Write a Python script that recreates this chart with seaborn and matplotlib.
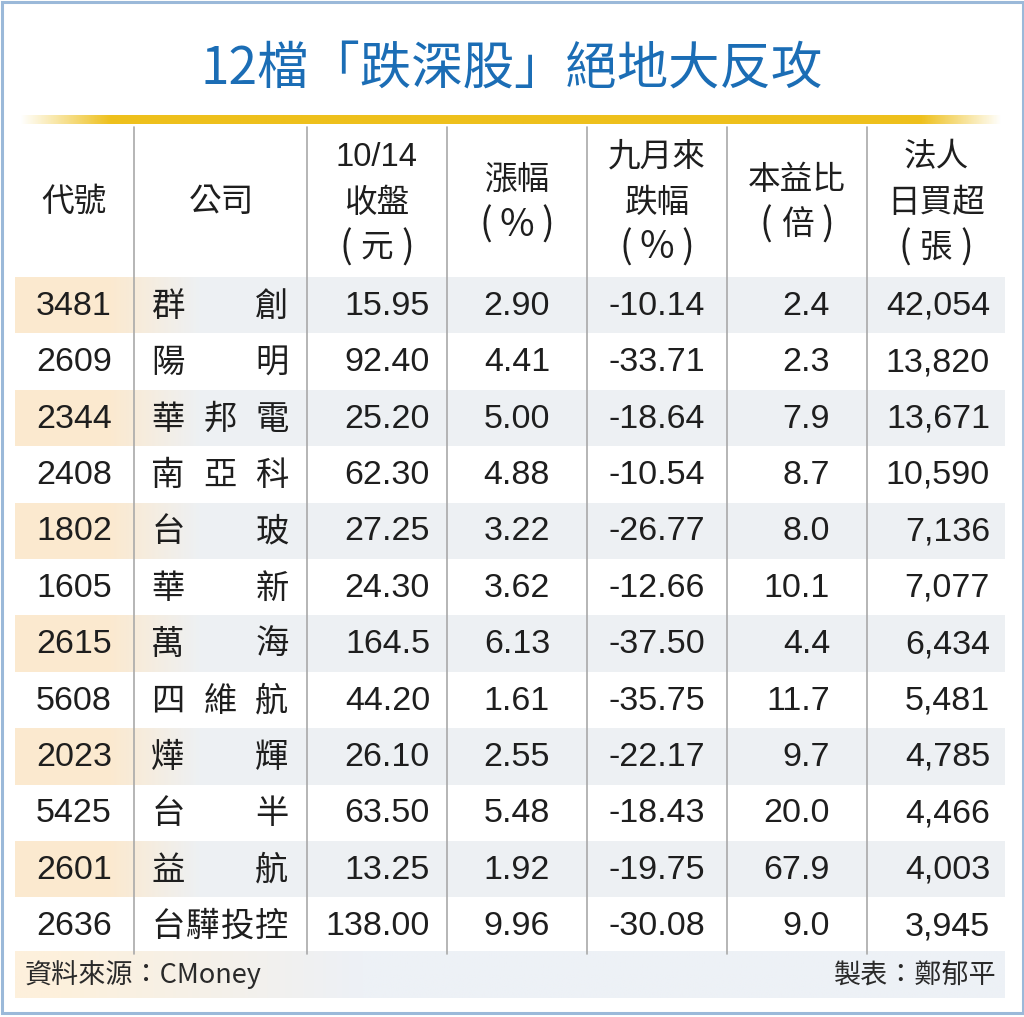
import matplotlib.pyplot as plt
import numpy as np
import pandas as pd
import seaborn as sns
from matplotlib.colors import LinearSegmentedColormap, to_rgb

codes = ['3481', '2609', '2344', '2408', '1802', '1605', '2615', '5608', '2023', '5425', '2601', '2636']
names = ['群創', '陽明', '華邦電', '南亞科', '台玻', '華新', '萬海', '四維航', '燁輝', '台半', '益航', '台驊投控']
close = ['15.95', '92.40', '25.20', '62.30', '27.25', '24.30', '164.5', '44.20', '26.10', '63.50', '13.25', '138.00']
change = [2.90, 4.41, 5.00, 4.88, 3.22, 3.62, 6.13, 1.61, 2.55, 5.48, 1.92, 9.96]
drop = [-10.14, -33.71, -18.64, -10.54, -26.77, -12.66, -37.50, -35.75, -22.17, -18.43, -19.75, -30.08]
pe = [2.4, 2.3, 7.9, 8.7, 8.0, 10.1, 4.4, 11.7, 9.7, 20.0, 67.9, 9.0]
netbuy = [42054, 13820, 13671, 10590, 7136, 7077, 6434, 5481, 4785, 4466, 4003, 3945]

headers = [['代號'], ['公司'], ['10/14', '收盤', '（元）'], ['漲幅', '（%）'],
           ['九月來', '跌幅', '（%）'], ['本益比', '（倍）'], ['法人', '日買超', '（張）']]
title = '12檔「跌深股」絕地大反攻'
source = '資料來源：CMoney'
credit = '製表：鄭郁平'

df = pd.DataFrame({'code': codes, 'name': names, 'close': close, 'change': change,
                   'drop': drop, 'pe': pe, 'netbuy': netbuy})

sns.set_theme(style='white')
cjk = ['Noto Sans CJK TC', 'DejaVu Sans']
num = ['Liberation Sans', 'DejaVu Sans']
plt.rcParams['font.family'] = cjk

W, H = 1024, 1017
fig = plt.figure(figsize=(W / 100, H / 100), dpi=100)

# table geometry in pixels
left, right = 15, 1005
top_body, row_h = 277, 56.4
n = len(df)
bottom_body = top_body + row_h * n
col_lines = [134, 307, 447, 587, 727, 867]
col_centers = [74, 221, 377, 517, 657, 797, 936]
cream, gray = '#fbe9cf', '#edf0f3'

# alternating row bands via heatmap (cream fades into gray to the right)
ax_bg = fig.add_axes([left / W, 1 - bottom_body / H, (right - left) / W, (bottom_body - top_body) / H])
xs = np.arange(left, right) + 0.5
blend = np.clip((200 - xs) / 90, 0, 1)
shade = np.full((n, len(xs)), np.nan)
shade[::2] = blend
band_cmap = LinearSegmentedColormap.from_list('band', [gray, cream])
sns.heatmap(shade, ax=ax_bg, cmap=band_cmap, vmin=0, vmax=1, cbar=False,
            xticklabels=False, yticklabels=False, linewidths=0, rasterized=True)
ax_bg.set_facecolor('white')

ax = fig.add_axes([0, 0, 1, 1])
ax.patch.set_alpha(0)

# footer band
fx = np.linspace(left, right, 400)
fb = np.clip((360 - fx) / 300, 0, 1)[None, :, None]
footer = fb * np.array(to_rgb('#fdf0dc')) + (1 - fb) * np.array(to_rgb('#edf1f6'))
ax.imshow(footer, extent=(left, right, 998, 951), aspect='auto', zorder=0)

# gold rule under the title
gx = np.linspace(20, 1002, 600)
alpha = np.clip(np.minimum((gx - 20) / 90, (1002 - gx) / 80), 0, 1)
gold = np.zeros((1, len(gx), 4))
gold[..., :3] = to_rgb('#eec01c')
gold[..., 3] = alpha
ax.imshow(gold, extent=(20, 1002, 124, 115.5), aspect='auto', zorder=1)

ax.set_xlim(0, W)
ax.set_ylim(H, 0)
ax.axis('off')

# frame
ax.add_patch(plt.Rectangle((1.5, 1.5), W - 3, 1011.5, fill=False, ec='#9bb9d9', lw=2.2, zorder=5))

for x in col_lines:
    ax.plot([x, x], [127, bottom_body], color='#a9a9a9', lw=1.2, zorder=2)

ax.text(512, 69, title, ha='center', va='center', fontsize=37, color='#1b6db5', fontweight='medium')

text_kw = dict(color='#1e1e1e', zorder=3)
for cx, lines in zip(col_centers, headers):
    if len(lines) == 3:
        ys = [157, 203, 248]
    elif len(lines) == 2:
        ys = [180, 225]
    else:
        ys = [202]
    for y, s in zip(ys, lines):
        if s.startswith('（'):
            # unit line: wide-set parentheses around the unit
            unit = s[1:-1]
            ax.text(cx - 31, y, '(', ha='center', va='center', fontsize=27, **text_kw)
            ax.text(cx, y, unit, ha='center', va='center', fontsize=27 if unit == '%' else 23.5, **text_kw)
            ax.text(cx + 31, y, ')', ha='center', va='center', fontsize=27, **text_kw)
        else:
            fam = num if s[0].isdigit() else cjk
            ax.text(cx, y, s, ha='center', va='center', fontsize=23.5, family=fam, **text_kw)

for i, r in df.iterrows():
    y = top_body + row_h * (i + 0.5) + 1
    ax.text(col_centers[0], y, r['code'], ha='center', va='center', fontsize=24.5, family=num, **text_kw)
    for cx, ch in zip(np.linspace(168, 272, len(r['name'])), r['name']):
        ax.text(cx, y, ch, ha='center', va='center', fontsize=24, **text_kw)
    ax.text(430, y, r['close'], ha='right', va='center', fontsize=24.5, family=num, **text_kw)
    ax.text(550, y, f"{r['change']:.2f}", ha='right', va='center', fontsize=24.5, family=num, **text_kw)
    ax.text(705, y, f"{r['drop']:.2f}", ha='right', va='center', fontsize=24.5, family=num, **text_kw)
    ax.text(830, y, f"{r['pe']:.1f}", ha='right', va='center', fontsize=24.5, family=num, **text_kw)
    ax.text(990, y, f"{r['netbuy']:,}", ha='right', va='center', fontsize=24.5, family=num, **text_kw)

ax.text(25, 975, source, ha='left', va='center', fontsize=19.5, color='#2a2a2a', zorder=3)
ax.text(997, 975, credit, ha='right', va='center', fontsize=19.5, color='#2a2a2a', zorder=3)

fig.savefig('out.png', dpi=100, facecolor='white')
